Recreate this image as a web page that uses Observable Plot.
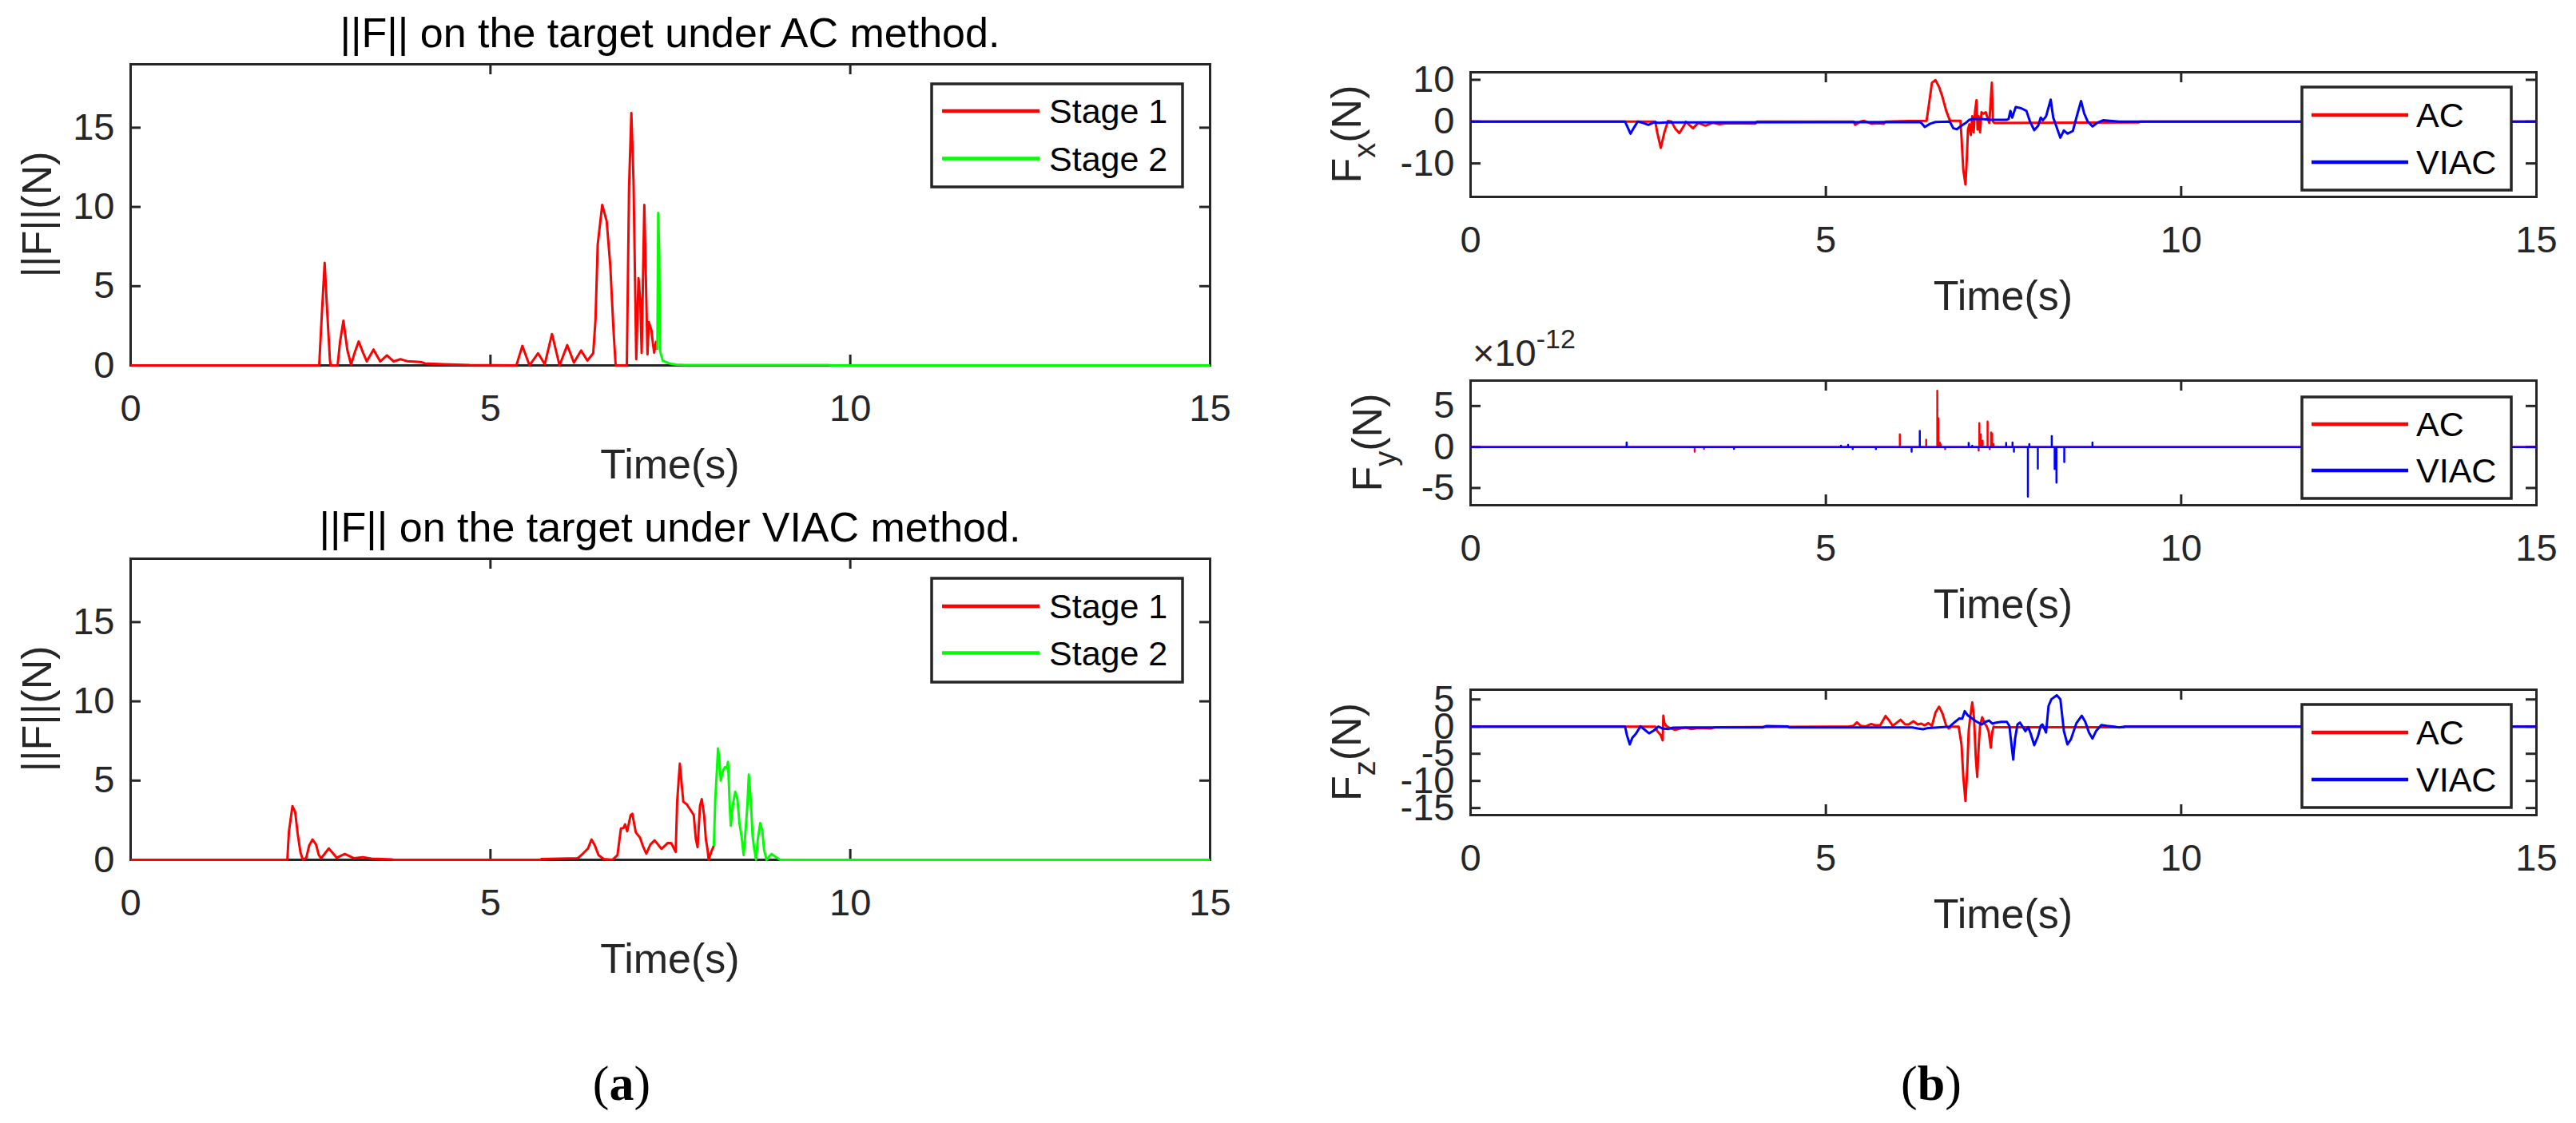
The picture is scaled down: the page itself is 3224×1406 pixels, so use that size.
<!DOCTYPE html>
<html>
<head>
<meta charset="utf-8">
<script src="https://cdn.jsdelivr.net/npm/d3@7"></script>
<script src="https://cdn.jsdelivr.net/npm/@observablehq/plot@0.6"></script>
<style>
  html, body { margin: 0; padding: 0; background: #fff; }
  #fig { position: relative; width: 3224px; height: 1406px; background: #fff; overflow: hidden; }
  .panel { position: absolute; }
  .plabel { position: absolute; font-family: "Liberation Serif", "Times New Roman", serif; font-size: 62px; line-height: 62px; color: #000; transform: translateX(-50%); white-space: nowrap; }
</style>
</head>
<body>
<div id="fig"></div>
<script>
// ---------- tick values ----------
const timeTicks = [0, 5, 10, 15];
const normTicks = [0, 5, 10, 15];
const fxTicks = [-10, 0, 10];
const fyTicks = [-5, 0, 5];          // in units of 1e-12 N
const fzTicks = [-15, -10, -5, 0, 5];

// ---------- (a) ||F|| under AC method : [time s, ||F|| N] ----------
const acNormStage1 = [[0,0],[2.62,0],[2.66,3.5],[2.696,6.47],[2.73,3.5],[2.77,0.3],[2.78,0],[2.876,0],[2.91,1.5],[2.957,2.82],[3.01,1.0],[3.063,0.05],[3.12,0.9],[3.169,1.51],[3.23,0.8],[3.281,0.25],[3.375,1.0],[3.468,0.25],[3.562,0.64],[3.655,0.25],[3.749,0.39],[3.842,0.27],[4.029,0.22],[4.09,0.13],[4.34,0.08],[4.71,0.02],[5.36,0],[5.443,1.23],[5.543,0],[5.662,0.77],[5.755,0.08],[5.855,1.98],[5.96,0],[6.067,1.28],[6.16,0.18],[6.26,0.94],[6.347,0.3],[6.428,0.77],[6.46,2.9],[6.49,7.6],[6.553,10.13],[6.615,9.1],[6.665,6.3],[6.71,2.2],[6.74,0],[6.895,0],[6.926,11.3],[6.958,15.93],[6.988,11.6],[7.026,0.39],[7.057,5.5],[7.082,4.1],[7.101,0.8],[7.138,10.13],[7.182,0.7],[7.2,2.74],[7.238,2.2],[7.257,1.4],[7.275,0.8],[7.3,1.48],[7.319,1.0]];
const acNormStage2 = [[7.319,1.0],[7.331,9.63],[7.345,7.1],[7.357,0.9],[7.394,0.3],[7.487,0.12],[7.58,0.05],[7.7,0.03],[9.7,0.03],[9.75,0],[15,0]];

// ---------- (a) ||F|| under VIAC method ----------
const viacNormStage1 = [[0,0],[2.177,0],[2.2,1.8],[2.249,3.39],[2.287,3.0],[2.321,1.65],[2.36,0.47],[2.393,0],[2.441,0.13],[2.48,0.89],[2.528,1.28],[2.576,0.97],[2.615,0.3],[2.648,0.1],[2.754,0.72],[2.865,0.13],[2.976,0.37],[3.106,0.1],[3.226,0.17],[3.347,0.08],[3.636,0.02],[3.66,0],[5.7,0],[5.706,0.05],[6.212,0.1],[6.284,0.39],[6.356,0.72],[6.404,1.28],[6.452,0.89],[6.501,0.3],[6.573,0.05],[6.693,0],[6.765,0.3],[6.813,1.98],[6.847,2.0],[6.871,2.24],[6.9,1.8],[6.948,2.82],[6.972,2.9],[6.996,2.3],[7.02,1.73],[7.078,1.4],[7.117,0.89],[7.165,0.39],[7.223,0.97],[7.281,1.23],[7.377,0.69],[7.464,1.06],[7.512,1.06],[7.574,0.5],[7.594,3.66],[7.632,6.07],[7.656,4.84],[7.68,3.66],[7.728,3.5],[7.777,3.16],[7.825,2.82],[7.854,1.31],[7.878,0.8],[7.912,3.41],[7.936,3.83],[7.969,2.82],[7.993,1.31],[8.017,0.64],[8.032,0],[8.065,0.47],[8.104,0.89]];
const viacNormStage2 = [[8.104,0.89],[8.124,3.83],[8.147,5.68],[8.162,7.03],[8.181,6.35],[8.2,5.0],[8.229,5.6],[8.258,5.85],[8.282,5.76],[8.301,6.18],[8.321,3.83],[8.34,2.15],[8.369,3.5],[8.402,4.3],[8.431,3.83],[8.46,2.32],[8.489,1.48],[8.518,0.3],[8.547,1.98],[8.571,3.5],[8.59,5.38],[8.614,4.0],[8.643,1.48],[8.667,0.64],[8.691,0],[8.715,1.31],[8.749,2.32],[8.778,1.82],[8.802,0.64],[8.836,0],[8.874,0.22],[8.908,0.37],[8.98,0.13],[9.028,0],[15,0]];

// ---------- (b) Fx ----------
const fxAC = [[0,0],[2.6,0],[2.627,-2.6],[2.677,-6.28],[2.728,-2.56],[2.778,0.13],[2.828,0],[2.878,-1.6],[2.938,-2.76],[3.004,-0.96],[3.029,0],[3.129,-1.6],[3.204,-0.3],[3.305,-0.96],[3.405,-0.3],[3.506,-0.64],[3.606,-0.38],[4.008,-0.45],[4.03,0],[5.39,0],[5.413,-0.77],[5.488,0],[5.539,0.19],[5.639,-0.5],[5.74,-0.38],[5.815,-0.5],[5.84,0],[6.166,0.13],[6.417,0.19],[6.443,3.2],[6.493,9.3],[6.543,9.94],[6.593,8.3],[6.643,5.77],[6.694,2.56],[6.744,0.32],[6.769,0.2],[6.894,0.2],[6.909,-3.85],[6.934,-11.5],[6.965,-15.06],[6.985,-8.3],[7.0,-1.9],[7.02,-0.64],[7.04,-3.2],[7.06,1.3],[7.08,-2.56],[7.1,2.56],[7.12,5.13],[7.135,-1.9],[7.15,1.3],[7.17,-2.56],[7.19,2.24],[7.22,1.92],[7.25,2.24],[7.28,0.64],[7.3,-0.32],[7.32,5.13],[7.336,9.3],[7.351,0],[7.371,-0.32],[9.404,-0.2],[9.42,0],[15,0]];
const fxVIAC = [[0,0],[2.175,0],[2.2,-0.96],[2.251,-2.88],[2.301,-1.4],[2.351,0],[2.427,-0.3],[2.502,-0.77],[2.577,-0.2],[2.652,-0.3],[2.753,-0.2],[6.317,-0.1],[6.342,-0.3],[6.392,-1.28],[6.468,-0.5],[6.543,-0.1],[6.744,0],[6.794,-1.6],[6.844,-1.8],[6.894,-1.15],[6.97,-0.3],[7.02,0.45],[7.07,0.64],[7.195,0.64],[7.321,0.45],[7.547,0.45],[7.572,0.64],[7.597,2.56],[7.622,0.96],[7.672,3.5],[7.748,3.2],[7.823,2.56],[7.873,0],[7.933,-2.05],[7.989,-0.96],[8.024,0.96],[8.054,0.32],[8.099,1.28],[8.164,5.26],[8.2,0.96],[8.24,-0.96],[8.3,-3.85],[8.35,-2.1],[8.4,-2.88],[8.476,-2.24],[8.526,0.96],[8.591,4.94],[8.636,1.92],[8.686,0],[8.752,-1.15],[8.827,-0.2],[8.902,0.32],[9.028,0.13],[9.128,0],[15,0]];

// ---------- (b) Fy : isolated impulses [time s, value x1e-12 N] ----------
const fyACSpikes = [[3.154,-0.56],[3.285,-0.23],[6.041,1.54],[6.412,0.88],[6.568,6.86],[6.583,3.5],[6.603,0.56],[6.618,0.3],[6.678,-0.26],[7.15,-0.42],[7.16,2.9],[7.18,1.54],[7.206,0.78],[7.276,3.1],[7.306,-0.26],[7.326,1.76],[7.341,1.63],[7.361,0.36]];
const fyVIACSpikes = [[2.196,0.56],[3.707,-0.23],[5.213,0.16],[5.313,0.26],[5.378,-0.26],[5.704,-0.26],[6.207,-0.56],[6.322,1.96],[7.01,0.49],[7.06,0.16],[7.537,0.49],[7.627,0.56],[7.647,-0.56],[7.843,-6.05],[7.863,0.36],[7.983,-2.65],[8.179,1.34],[8.22,-2.7],[8.245,-4.35],[8.355,-1.83],[8.752,0.56]];

// ---------- (b) Fz ----------
const fzAC = [[0,0],[2.6,0],[2.627,-0.83],[2.677,-1.57],[2.703,-2.55],[2.713,2.0],[2.728,0.64],[2.753,0.15],[2.803,-0.25],[2.878,-0.59],[2.954,-0.34],[3.029,-0.2],[3.104,-0.44],[3.205,-0.25],[3.38,-0.34],[3.45,-0.1],[5.313,0],[5.388,0.15],[5.438,0.78],[5.489,0.15],[5.564,0.05],[5.639,0.49],[5.69,0.25],[5.765,0.25],[5.84,1.96],[5.89,1.13],[5.94,0.15],[5.99,0.64],[6.051,1.27],[6.116,0.39],[6.166,0.39],[6.232,0.98],[6.292,0.39],[6.342,0.54],[6.392,0.25],[6.442,0.64],[6.493,0.15],[6.543,2.6],[6.593,3.68],[6.643,2.35],[6.694,0.15],[6.729,-0.34],[6.769,0],[6.869,0],[6.909,-3.3],[6.934,-9.2],[6.965,-13.7],[6.99,-7.7],[7.01,-0.83],[7.03,1.6],[7.06,4.46],[7.085,1.6],[7.11,-5.7],[7.13,-9.26],[7.15,-3.8],[7.17,0.15],[7.2,1.72],[7.23,0.64],[7.26,0.15],[7.29,-0.83],[7.321,-3.87],[7.341,-1.08],[7.361,0],[7.38,-0.1],[9.2,-0.1],[9.22,0],[15,0]];
const fzVIAC = [[0,0],[2.175,0],[2.2,-1.57],[2.241,-3.28],[2.276,-2.06],[2.326,-1.32],[2.391,0.05],[2.452,-0.59],[2.512,-1.23],[2.577,-0.74],[2.642,0],[2.703,-0.34],[2.778,-0.44],[2.853,-0.2],[3.104,-0.15],[4.108,-0.15],[4.158,0.1],[4.46,0.05],[4.485,-0.15],[6.217,-0.15],[6.292,-0.34],[6.367,-0.49],[6.442,-0.25],[6.618,-0.1],[6.743,0],[6.819,0.88],[6.879,1.52],[6.919,1.47],[6.954,2.84],[6.995,2.1],[7.045,1.62],[7.095,1.13],[7.145,0.74],[7.195,0.39],[7.246,0.88],[7.296,1.13],[7.346,0.54],[7.396,0.74],[7.471,0.88],[7.547,0.88],[7.582,0.15],[7.612,-3.28],[7.637,-6.08],[7.662,-2.3],[7.697,0.39],[7.732,0.74],[7.773,-0.1],[7.808,-0.83],[7.848,-0.1],[7.883,-1.32],[7.933,-3.43],[7.984,-1.81],[8.024,0.15],[8.049,0.39],[8.099,-1.08],[8.134,3.82],[8.174,5.05],[8.25,5.78],[8.3,5.05],[8.325,2.1],[8.35,-0.83],[8.4,-3.28],[8.45,-2.3],[8.526,0.64],[8.601,2.0],[8.651,0.88],[8.702,-1.08],[8.752,-2.2],[8.802,-0.83],[8.877,0.29],[8.952,0.15],[9.053,0],[9.128,-0.15],[9.203,0],[15,0]];

// ---------- styling ----------
const RED = "#ff0000", GREEN = "#00ff00", BLUE = "#0000ff", AXIS = "#262626";
const SANS = '"Liberation Sans", Arial, Helvetica, sans-serif';
const TICK_FS = 47, LABEL_FS = 52, LEGEND_FS = 43;

const toRows = pairs => pairs.map(([t, v]) => ({t, v}));
function spikeRows(spikes) {
  const rows = [{t: 0, v: 0}];
  for (const [t, v] of spikes) rows.push({t, v: 0}, {t, v}, {t, v: 0});
  rows.push({t: 15, v: 0});
  return rows;
}

const panels = [
  { left: 0, top: 0, width: 1600, height: 620, frame: [163, 80, 1514, 457],
    yDomain: [0, 19], yTicks: normTicks,
    title: "||F|| on the target under AC method.",
    ylabel: {x: 64, parts: [["||F||(N)"]]},
    series: [{rows: toRows(acNormStage1), color: RED}, {rows: toRows(acNormStage2), color: GREEN}],
    legend: {box: [1166, 105, 1480, 234], lineX: [1179, 1301], textX: 1313, rows: [139, 198.5], labels: ["Stage 1", "Stage 2"], colors: [RED, GREEN]} },
  { left: 0, top: 620, width: 1600, height: 640, frame: [163, 699, 1514, 1076],
    yDomain: [0, 19], yTicks: normTicks,
    title: "||F|| on the target under VIAC method.",
    ylabel: {x: 64, parts: [["||F||(N)"]]},
    series: [{rows: toRows(viacNormStage1), color: RED}, {rows: toRows(viacNormStage2), color: GREEN}],
    legend: {box: [1166, 724, 1480, 854], lineX: [1179, 1301], textX: 1313, rows: [759, 817.5], labels: ["Stage 1", "Stage 2"], colors: [RED, GREEN]} },
  { left: 1600, top: 0, width: 1624, height: 405, frame: [1840, 90, 3174, 246],
    yDomain: [-18, 11.8], yTicks: fxTicks,
    ylabel: {x: 1703, parts: [["F"], ["x", "sub"], ["(N)"]]},
    series: [{rows: toRows(fxAC), color: RED}, {rows: toRows(fxVIAC), color: BLUE}],
    legend: {box: [2881, 109, 3143, 238], lineX: [2893, 3014], textX: 3024, rows: [144, 203], labels: ["AC", "VIAC"], colors: [RED, BLUE]} },
  { left: 1600, top: 405, width: 1624, height: 400, frame: [1840, 476, 3174, 632],
    yDomain: [-7.1, 8.1], yTicks: fyTicks, exponent: true,
    ylabel: {x: 1729, parts: [["F"], ["y", "sub"], ["(N)"]]},
    series: [{rows: spikeRows(fyACSpikes), color: RED, width: 2.5}, {rows: spikeRows(fyVIACSpikes), color: BLUE, width: 2.5}],
    legend: {box: [2881, 497, 3143, 624], lineX: [2893, 3014], textX: 3024, rows: [531, 589], labels: ["AC", "VIAC"], colors: [RED, BLUE]} },
  { left: 1600, top: 805, width: 1624, height: 400, frame: [1840, 863, 3174, 1020],
    yDomain: [-16.3, 6.8], yTicks: fzTicks,
    ylabel: {x: 1703, parts: [["F"], ["z", "sub"], ["(N)"]]},
    series: [{rows: toRows(fzAC), color: RED}, {rows: toRows(fzVIAC), color: BLUE}],
    legend: {box: [2881, 882, 3143, 1011], lineX: [2893, 3014], textX: 3024, rows: [917, 976], labels: ["AC", "VIAC"], colors: [RED, BLUE]} }
];

const fig = document.getElementById("fig");
const fmt = d => String(d);

for (const p of panels) {
  const [fl, ft, fr, fb] = p.frame;
  const mL = fl - p.left, mT = ft - p.top, mR = p.left + p.width - fr, mB = p.top + p.height - fb;
  const fw = fr - fl, fh = fb - ft;
  const TL = 13;
  const marks = [
    Plot.frame({stroke: AXIS, strokeWidth: 3}),
    Plot.ruleX(timeTicks, {x: d => d, stroke: AXIS, strokeWidth: 3, insetTop: fh - TL}),
    Plot.ruleX(timeTicks, {x: d => d, stroke: AXIS, strokeWidth: 3, insetBottom: fh - TL}),
    Plot.ruleY(p.yTicks, {y: d => d, stroke: AXIS, strokeWidth: 3, insetRight: fw - TL}),
    Plot.ruleY(p.yTicks, {y: d => d, stroke: AXIS, strokeWidth: 3, insetLeft: fw - TL}),
    ...p.series.map(s => Plot.line(s.rows, {x: "t", y: "v", stroke: s.color, strokeWidth: s.width || 3, strokeLinejoin: "round", strokeLinecap: "butt"})),
    Plot.axisX({ticks: timeTicks, tickSize: 0, tickPadding: 36, fontSize: TICK_FS, tickFormat: fmt, label: null}),
    Plot.axisY({ticks: p.yTicks, tickSize: 0, tickPadding: 20, fontSize: TICK_FS, tickFormat: fmt, label: null})
  ];
  const node = Plot.plot({
    width: p.width, height: p.height,
    marginLeft: mL, marginRight: mR, marginTop: mT, marginBottom: mB,
    x: {domain: [0, 15]},
    y: {domain: p.yDomain},
    style: {fontFamily: SANS, background: "transparent", color: AXIS, overflow: "visible"},
    marks
  });
  const svg = d3.select(node);
  const cx = mL + fw / 2;

  // title
  if (p.title) {
    svg.append("text").attr("x", cx).attr("y", mT - 21)
      .attr("text-anchor", "middle").attr("font-family", SANS).attr("font-size", LABEL_FS)
      .attr("fill", "#000").text(p.title);
  }
  // x label
  svg.append("text").attr("x", cx).attr("y", mT + fh + 142)
    .attr("text-anchor", "middle").attr("font-family", SANS).attr("font-size", LABEL_FS)
    .attr("fill", AXIS).text("Time(s)");
  // y label (rotated)
  const yl = svg.append("text")
    .attr("transform", `translate(${p.ylabel.x - p.left},${mT + fh / 2}) rotate(-90)`)
    .attr("text-anchor", "middle").attr("font-family", SANS).attr("font-size", LABEL_FS)
    .attr("fill", AXIS);
  let shifted = false;
  for (const [txt, kind] of p.ylabel.parts) {
    const ts = yl.append("tspan").text(txt);
    if (kind === "sub") { ts.attr("font-size", 38).attr("dy", 18); shifted = true; }
    else if (shifted) { ts.attr("dy", -18); shifted = false; }
  }
  // exponent label
  if (p.exponent) {
    const ex = svg.append("text").attr("x", 243).attr("y", mT - 18)
      .attr("text-anchor", "start")
      .attr("font-family", SANS).attr("font-size", TICK_FS).attr("fill", AXIS);
    ex.append("tspan").text("×10");
    ex.append("tspan").attr("font-size", 34).attr("dy", -22).text("-12");
  }
  // legend
  const L = p.legend;
  const g = svg.append("g");
  g.append("rect").attr("x", L.box[0] - p.left).attr("y", L.box[1] - p.top)
    .attr("width", L.box[2] - L.box[0]).attr("height", L.box[3] - L.box[1])
    .attr("fill", "#fff").attr("stroke", AXIS).attr("stroke-width", 3.5);
  L.labels.forEach((lab, i) => {
    const y = L.rows[i] - p.top;
    g.append("line").attr("x1", L.lineX[0] - p.left).attr("x2", L.lineX[1] - p.left)
      .attr("y1", y).attr("y2", y).attr("stroke", L.colors[i]).attr("stroke-width", 4.5);
    g.append("text").attr("x", L.textX - p.left).attr("y", y)
      .attr("text-anchor", "start")
      .attr("dominant-baseline", "central").attr("font-family", SANS)
      .attr("font-size", LEGEND_FS).attr("fill", "#000").text(lab);
  });

  const wrap = document.createElement("div");
  wrap.className = "panel";
  wrap.style.left = p.left + "px";
  wrap.style.top = p.top + "px";
  wrap.appendChild(node);
  fig.appendChild(wrap);
}

// sub-figure labels
for (const [html, x] of [["(<b>a</b>)", 778], ["(<b>b</b>)", 2417]]) {
  const d = document.createElement("div");
  d.className = "plabel";
  d.style.left = x + "px";
  d.style.top = "1325px";
  d.innerHTML = html;
  fig.appendChild(d);
}
</script>
</body>
</html>
